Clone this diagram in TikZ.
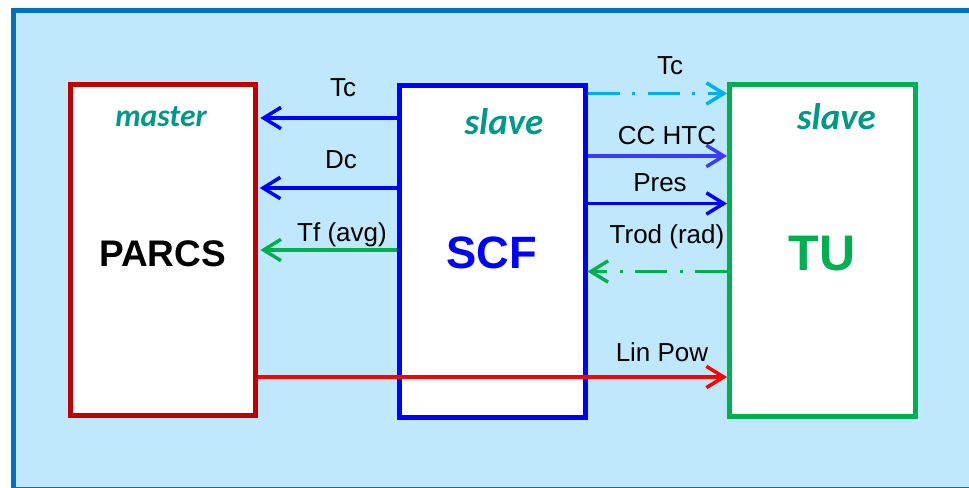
\documentclass[tikz,border=0pt]{standalone}
\usepackage{fontspec}
\setmainfont{Liberation Sans}
\newfontfamily\calib{Carlito}
\usetikzlibrary{arrows.meta}
\definecolor{bgfill}{RGB}{192,232,252}
\definecolor{bgline}{RGB}{0,112,192}
\definecolor{boxred}{RGB}{192,0,0}
\definecolor{boxblue}{RGB}{0,0,255}
\definecolor{boxgreen}{RGB}{0,176,80}
\definecolor{cyanline}{RGB}{0,176,240}
\definecolor{lightblue}{RGB}{60,60,255}
\definecolor{teal}{RGB}{0,153,136}
\definecolor{redline}{RGB}{255,0,0}
\tikzset{
  box/.style={draw=#1, line width=3.75pt, fill=white, inner sep=0pt},
  arr/.style={draw=#1, line width=2.6pt, -{Straight Barb[length=13pt,width=16pt]}},
  dashdot/.style={dash pattern=on 24pt off 9pt on 2.25pt off 9.75pt},
  lab/.style={font=\fontsize{19.5}{22}\selectfont, anchor=base, inner sep=0pt},
  role/.style={font=\calib\bfseries\itshape\fontsize{#1}{#1}\selectfont, text=teal, anchor=base, inner sep=0pt},
  big/.style={font=\bfseries\fontsize{#1}{#1}\selectfont, anchor=base, inner sep=0pt}
}
\begin{document}
\begin{tikzpicture}[x=0.75pt,y=-0.75pt]
\useasboundingbox (0,0) rectangle (969,488);
\clip (0,0) rectangle (969,488);
\draw[bgline, fill=bgfill, line width=3.75pt] (13.8,10.7) rectangle (990,489.5);

% boxes
\node[box=boxred, minimum width=185*0.75pt, minimum height=331.3*0.75pt] (parcs) at (162.7,249.85) {};
\node[box=boxblue, minimum width=185.5*0.75pt, minimum height=331.7*0.75pt] (scf) at (492.25,251.65) {};
\node[box=boxgreen, minimum width=186*0.75pt, minimum height=332.3*0.75pt] (tu) at (822.5,250.35) {};

% box texts
\node[role=23.7] (m1) at (161,126.7) {master};
\node[role=27.75] (s1) at (504,135) {slave};
\node[role=27.75] (s2) at (836.5,130) {slave};
\node[big=27.75] (tparcs) at (162.5,266) {PARCS};
\node[big=34, text=boxblue] (tscf) at (492,268) {SCF};
\node[big=37.5, text=boxgreen] (ttu) at (822,270) {TU};

% left arrows
\draw[arr=boxblue, shorten >=2pt] (scf.west |- 0,118) -- (parcs.east |- 0,118);
\draw[arr=boxblue, shorten >=1.5pt] (scf.west |- 0,188) -- (parcs.east |- 0,188);
\draw[arr=boxgreen, shorten >=2pt] (scf.west |- 0,250) -- (parcs.east |- 0,250);
\node[lab] (lTc1) at (343,96.7) {Tc};
\node[lab] (lDc) at (341,169) {Dc};
\node[lab] (lTf) at (342,241.7) {Tf (avg)};

% right arrows
\draw[arr=cyanline, dashdot] (scf.east |- 0,93.5) -- (tu.west |- 0,93.5);
\draw[arr=lightblue] (scf.east |- 0,156) -- (tu.west |- 0,156);
\draw[arr=boxblue] (scf.east |- 0,203.5) -- (tu.west |- 0,203.5);
\draw[arr=boxgreen, dashdot] (tu.west |- 0,271.5) -- (scf.east |- 0,271.5);
\node[lab] (lTc2) at (670,75) {Tc};
\node[lab] (lCC) at (667,145) {CC HTC};
\node[lab] (lPres) at (660,191.7) {Pres};
\node[lab] (lTrod) at (667,243) {Trod (rad)};

% lin pow
\draw[arr=redline] (parcs.east |- 0,377) -- (tu.west |- 0,377);
\node[lab] (lLin) at (662,361) {Lin Pow};
\end{tikzpicture}
\end{document}
